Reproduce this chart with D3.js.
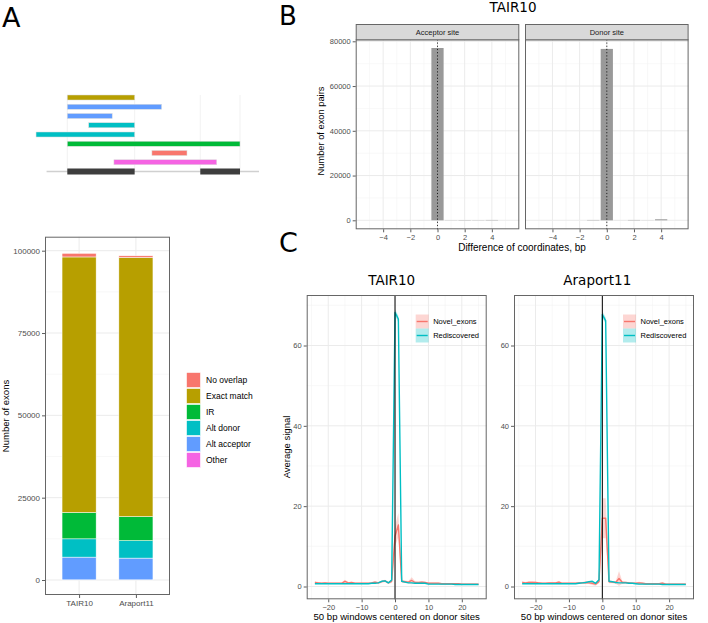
<!DOCTYPE html>
<html><head><meta charset="utf-8">
<script src="https://cdn.jsdelivr.net/npm/d3@7/dist/d3.min.js"></script>
<style>body{margin:0;background:#fff}svg{display:block}</style>
</head><body><svg id="c" width="708" height="623"></svg>
<script>
// ---------------- DATA ----------------
// Panel A: stacked bars
const exonCategories = ["No overlap","Exact match","IR","Alt donor","Alt acceptor","Other"];
const categoryColors = ["#F8766D","#B79F00","#00BA38","#00BFC4","#619CFF","#F564E3"];
const annotations = ["TAIR10","Araport11"];
const tairCounts    = [1100, 77600, 8000, 5550, 6900, 50];
const araportCounts = [500, 78700, 7300, 5300, 6600, 50];
const countTicks = [0,25000,50000,75000,100000];

// Panel A: schematic (gene coordinates, arbitrary units)
const schemaCategory = ["Exact match","Alt acceptor","Alt acceptor","Alt donor","Alt donor","IR","No overlap","Other"];
const schemaStart = [0, 0, 0, 12.4, -18.1, 0, 49, 27];
const schemaEnd   = [39, 54.6, 26, 39, 39, 100, 69.3, 86.5];
const geneExonStart = [0, 77];
const geneExonEnd   = [39, 100];
const geneSpan = [-12, 111];

// Panel B
const bTitle = "TAIR10";
const facets = ["Acceptor site","Donor site"];
const diffBins = [-1, 0, 1, 2, 3, 4];
const acceptorPairs = [30, 77000, 60, 120, 80, 150];
const donorPairs    = [150, 76600, 20, 150, 40, 450];
const diffTicks = [-4,-2,0,2,4];
const pairTicks = [0,20000,40000,60000,80000];

// Panel C
const windowPos = [-24,-23,-22,-21,-20,-19,-18,-17,-16,-15,-14,-13,-12,-11,-10,-9,-8,-7,-6,-5,-4,-3,-2,-1,0,1,2,3,4,5,6,7,8,9,10,11,12,13,14,15,16,17,18,19,20,21,22,23,24,25];
const tairNovel = [1.0,0.9,0.8,0.9,0.8,0.8,0.8,0.8,0.8,1.3, 0.9,1.0,0.8,0.8,0.8,0.8,0.8,0.9,1.1,0.9, 1.2,1.4,0.9,1.3,12.5,15.3,1.3,1.2,1.1,1.5, 1.0,1.0,1.1,1.0,0.8,0.8,0.8,0.8,0.7,0.7, 0.7,0.7,0.7,0.7,0.6,0.6,0.6,0.6,0.6,0.6];
const tairNovelSe = [0.3,0.2,0.2,0.2,0.2,0.2,0.2,0.2,0.2,0.4, 0.2,0.2,0.2,0.2,0.2,0.2,0.2,0.2,0.3,0.2, 0.3,0.3,0.2,0.4,2.5,3.0,0.4,0.3,0.3,0.8, 0.3,0.2,0.3,0.2,0.2,0.2,0.2,0.2,0.2,0.2, 0.2,0.2,0.2,0.2,0.2,0.2,0.2,0.2,0.2,0.2];
const tairRedisc = [0.7,0.7,0.7,0.7,0.7,0.7,0.7,0.7,0.7,0.7, 0.7,0.7,0.7,0.7,0.7,0.7,0.7,0.8,0.8,0.9, 1.3,1.4,0.9,1.6,68.2,66.6,1.3,1.1,0.9,0.9, 0.8,0.8,0.8,0.8,0.6,0.6,0.6,0.6,0.6,0.6, 0.6,0.6,0.5,0.5,0.5,0.5,0.5,0.5,0.5,0.5];
const tairRediscSe = [0.05,0.05,0.05,0.05,0.05,0.05,0.05,0.05,0.05,0.05, 0.05,0.05,0.05,0.05,0.05,0.05,0.05,0.05,0.05,0.05, 0.1,0.1,0.05,0.1,0.8,0.8,0.1,0.05,0.05,0.05, 0.05,0.05,0.05,0.05,0.05,0.05,0.05,0.05,0.05,0.05, 0.05,0.05,0.05,0.05,0.05,0.05,0.05,0.05,0.05,0.05];
const araNovel = [1.0,0.9,1.0,1.0,1.0,0.9,0.8,0.8,0.9,0.9, 0.9,1.1,0.8,0.8,0.8,0.8,0.8,0.9,0.9,1.0, 0.9,0.8,0.6,1.2,17.0,17.0,1.2,1.1,1.0,2.0, 1.0,1.0,0.9,0.8,0.8,0.9,0.8,0.7,0.7,0.7, 0.7,0.7,0.8,0.6,0.6,0.6,0.6,0.6,0.6,0.6];
const araNovelSe = [0.3,0.2,0.3,0.3,0.2,0.2,0.2,0.2,0.2,0.2, 0.2,0.3,0.2,0.2,0.2,0.2,0.2,0.2,0.2,0.3, 0.3,0.4,0.4,0.4,5.0,5.0,0.4,0.3,0.3,1.8, 0.3,0.2,0.2,0.2,0.2,0.3,0.2,0.2,0.2,0.2, 0.2,0.2,0.3,0.2,0.2,0.2,0.2,0.2,0.2,0.2];
const araRedisc = [0.7,0.7,0.7,0.7,0.7,0.7,0.7,0.7,0.7,0.7, 0.7,0.7,0.7,0.7,0.7,0.7,0.7,0.8,0.9,1.0, 1.2,1.3,0.8,1.7,67.7,66.2,1.3,1.2,1.0,0.9, 0.9,0.9,0.8,0.8,0.7,0.6,0.6,0.6,0.6,0.6, 0.6,0.6,0.5,0.5,0.5,0.5,0.5,0.5,0.5,0.5];
const araRediscSe = tairRediscSe;
const cSeries = ["Novel_exons","Rediscovered"];
const cColors = ["#F8766D","#00BFC4"];
const cXTicks = [-20,-10,0,10,20];
const cYTicks = [0,20,40,60];

// ---------------- DRAWING ----------------
const svg = d3.select("#c");
const SANS = "'Liberation Sans', Arial, Helvetica, sans-serif";
const DJ = "'DejaVu Sans', sans-serif";
const MAJ = "#EBEBEB", MIN = "#F4F4F4", BORDER = "#666", TICKC = "#4D4D4D";
svg.append("rect").attr("width",708).attr("height",623).attr("fill","#fff");

function panelBg(x0,x1,y0,y1){
  svg.append("rect").attr("x",x0).attr("y",y0).attr("width",x1-x0).attr("height",y1-y0).attr("fill","#fff");
}
function panelBorder(x0,x1,y0,y1){
  svg.append("rect").attr("x",x0+0.5).attr("y",y0+0.5).attr("width",x1-x0-1).attr("height",y1-y0-1)
    .attr("fill","none").attr("stroke",BORDER).attr("stroke-width",1);
}
function vgrid(xs, y0, y1, col, w){
  svg.append("g").selectAll("line").data(xs).join("line")
    .attr("x1",d=>d).attr("x2",d=>d).attr("y1",y0).attr("y2",y1).attr("stroke",col).attr("stroke-width",w);
}
function hgrid(ys, x0, x1, col, w){
  svg.append("g").selectAll("line").data(ys).join("line")
    .attr("y1",d=>d).attr("y2",d=>d).attr("x1",x0).attr("x2",x1).attr("stroke",col).attr("stroke-width",w);
}
function styleAxis(g, fs){
  g.select(".domain").remove();
  g.selectAll(".tick line").attr("stroke","#333").attr("stroke-width",0.8);
  g.selectAll(".tick text").attr("fill",TICKC).style("font-family",SANS).style("font-size",fs+"px");
}
function text(x,y,t,opt){
  const e = svg.append("text").attr("x",x).attr("y",y).text(t)
    .style("font-family",opt.font||SANS).style("font-size",opt.size+"px")
    .attr("fill",opt.fill||"#000").attr("text-anchor",opt.anchor||"middle");
  if(opt.rot) e.attr("transform",`rotate(-90,${x},${y})`);
  return e;
}

// Panel letters
text(2,27,"A",{font:DJ,size:27,anchor:"start"});
text(279,25,"B",{font:DJ,size:26,anchor:"start"});
text(279,252,"C",{font:DJ,size:27,anchor:"start"});

// ---- Panel A schematic ----
const colorOf = d3.scaleOrdinal().domain(exonCategories).range(categoryColors);
const sx = d3.scaleLinear().domain([0,100]).range([67.3,240]);
const rowY = d3.scaleLinear().domain([0,8]).range([97.5,171.5]);
const boundaries = [geneExonStart[0], geneExonEnd[0], geneExonStart[1], geneExonEnd[1]];
svg.append("g").selectAll("line").data(boundaries).join("line")
  .attr("x1",d=>sx(d)).attr("x2",d=>sx(d)).attr("y1",rowY(0)-2).attr("y2",rowY(8))
  .attr("stroke","#d4d4d4").attr("stroke-width",0.6).attr("stroke-dasharray","1,1");
svg.append("line").attr("x1",sx(geneSpan[0])).attr("x2",sx(geneSpan[1]))
  .attr("y1",rowY(8)).attr("y2",rowY(8)).attr("stroke","#d0d0d0").attr("stroke-width",1.5);
svg.append("g").selectAll("rect").data(geneExonStart).join("rect")
  .attr("x",d=>sx(d)).attr("width",(d,i)=>sx(geneExonEnd[i])-sx(d))
  .attr("y",rowY(8)-3).attr("height",6).attr("fill","#3d3d3d");
svg.append("g").selectAll("rect").data(schemaCategory).join("rect")
  .attr("x",(d,i)=>sx(schemaStart[i])).attr("width",(d,i)=>sx(schemaEnd[i])-sx(schemaStart[i]))
  .attr("y",(d,i)=>rowY(i)-2.5).attr("height",5)
  .attr("fill",d=>colorOf(d)).attr("stroke","#dcdcdc").attr("stroke-width",0.5);

// ---- Panel A stacked bars ----
const A = {x0:45,x1:170,y0:236.7,y1:595};
const aX = d3.scalePoint().domain(annotations).range([A.x0,A.x1]).padding(0.6);
const aY = d3.scaleLinear().domain([0,100000]).range([580,250.7]);
panelBg(A.x0,A.x1,A.y0,A.y1);
hgrid([12500,37500,62500,87500].map(aY),A.x0,A.x1,MIN,0.6);
hgrid(countTicks.map(aY),A.x0,A.x1,MAJ,1);
vgrid(annotations.map(aX),A.y0,A.y1,MAJ,1);
const aRows = annotations.map((a,i)=>{
  const src = i===0?tairCounts:araportCounts; const o={ann:a};
  exonCategories.forEach((c,j)=>o[c]=src[j]); return o;});
const aStack = d3.stack().keys(exonCategories.slice().reverse())(aRows);
const bw = aX.step()*0.6;
svg.append("g").selectAll("g").data(aStack).join("g").attr("fill",d=>colorOf(d.key))
  .selectAll("rect").data(d=>d).join("rect")
  .attr("x",d=>aX(d.data.ann)-bw/2).attr("width",bw)
  .attr("y",d=>aY(d[1])).attr("height",d=>Math.max(0,aY(d[0])-aY(d[1])))
  .attr("stroke","#fff").attr("stroke-width",0.5);
panelBorder(A.x0,A.x1,A.y0,A.y1);
const aYAxis = svg.append("g").attr("transform",`translate(${A.x0},0)`)
  .call(d3.axisLeft(aY).tickValues(countTicks).tickSize(3).tickPadding(2).tickFormat(d3.format("d")));
styleAxis(aYAxis,8);
const aXAxis = svg.append("g").attr("transform",`translate(0,${A.y1})`)
  .call(d3.axisBottom(aX).tickSize(3).tickPadding(2));
styleAxis(aXAxis,8);
text(9,416,"Number of exons",{size:9.5,rot:true});
// legend
const legG = svg.append("g");
exonCategories.forEach((c,i)=>{
  const cy = 380 + i*16;
  legG.append("rect").attr("x",186.5).attr("y",cy-7.5).attr("width",14).attr("height",15)
    .attr("fill",colorOf(c)).attr("stroke","#fff").attr("stroke-width",0.6);
  legG.append("text").attr("x",206).attr("y",cy+3).text(c).style("font-family",SANS)
    .style("font-size","8.5px").attr("fill","#000");
});

// ---- Panel B ----
const B = {y0:39.3,y1:229.3,sy0:24,w:163.6,x0s:[355.7,525]};
const bY = d3.scaleLinear().domain([0,80000]).range([220.3,41.3]);
text(513,12,bTitle,{font:DJ,size:13.5});
facets.forEach((f,fi)=>{
  const x0 = B.x0s[fi], x1 = x0+B.w;
  const bX = d3.scaleLinear().domain([-6.02,6.02]).range([x0,x1]);
  panelBg(x0,x1,B.y0,B.y1);
  vgrid([-5,-3,-1,1,3,5].map(bX),B.y0,B.y1,MIN,0.6);
  hgrid([10000,30000,50000,70000].map(bY),x0,x1,MIN,0.6);
  vgrid(diffTicks.map(bX),B.y0,B.y1,MAJ,1);
  hgrid(pairTicks.map(bY),x0,x1,MAJ,1);
  const vals = fi===0?acceptorPairs:donorPairs;
  svg.append("g").selectAll("rect").data(diffBins).join("rect")
    .attr("x",d=>bX(d-0.45)).attr("width",d=>bX(d+0.45)-bX(d-0.45))
    .attr("y",(d,i)=>bY(vals[i])).attr("height",(d,i)=>bY(0)-bY(vals[i]))
    .attr("fill","#999");
  svg.append("line").attr("x1",bX(0)).attr("x2",bX(0)).attr("y1",B.y0).attr("y2",B.y1)
    .attr("stroke","#000").attr("stroke-width",0.8).attr("stroke-dasharray","1.2,2");
  panelBorder(x0,x1,B.y0,B.y1);
  svg.append("rect").attr("x",x0+0.5).attr("y",B.sy0+0.5).attr("width",B.w-1).attr("height",B.y0-B.sy0)
    .attr("fill","#D9D9D9").attr("stroke",BORDER).attr("stroke-width",1);
  text((x0+x1)/2,34.5,f,{size:7.5,fill:"#1A1A1A"});
  const xa = svg.append("g").attr("transform",`translate(0,${B.y1})`)
    .call(d3.axisBottom(bX).tickValues(diffTicks).tickSize(3).tickPadding(2));
  styleAxis(xa,7.5);
  if(fi===0){
    const ya = svg.append("g").attr("transform",`translate(${x0},0)`)
      .call(d3.axisLeft(bY).tickValues(pairTicks).tickSize(3).tickPadding(2).tickFormat(d3.format("d")));
    styleAxis(ya,7.5);
  }
});
text(522,251,"Difference of coordinates, bp",{size:10});
text(323.5,131,"Number of exon pairs",{size:9.3,rot:true});

// ---- Panel C ----
function drawC(x0,x1,title,titleX,series,ses,yLabel){
  const C = {y0:295,y1:599.3};
  const cX = d3.scaleLinear().domain([-26.45,27.45]).range([x0,x1]);
  const cY = d3.scaleLinear().domain([0,60]).range([586.5,345.5]);
  panelBg(x0,x1,C.y0,C.y1);
  vgrid([-25,-15,-5,5,15,25].map(cX),C.y0,C.y1,MIN,0.6);
  hgrid([10,30,50,70].map(cY),x0,x1,MIN,0.6);
  vgrid(cXTicks.map(cX),C.y0,C.y1,MAJ,1);
  hgrid(cYTicks.map(cY),x0,x1,MAJ,1);
  const area = d3.area().x((d,i)=>cX(windowPos[i])).y0(d=>cY(d[0]-d[1])).y1(d=>cY(d[0]+d[1]));
  const line = d3.line().x((d,i)=>cX(windowPos[i])).y(d=>cY(d));
  series.forEach((s,k)=>{
    svg.append("path").datum(s.map((v,i)=>[v,ses[k][i]])).attr("d",area)
      .attr("fill",cColors[k]).attr("fill-opacity",0.3);
  });
  series.forEach((s,k)=>{
    svg.append("path").datum(s).attr("d",line).attr("fill","none")
      .attr("stroke",cColors[k]).attr("stroke-width",1.4).attr("stroke-linejoin","round");
  });
  svg.append("line").attr("x1",cX(0)).attr("x2",cX(0)).attr("y1",C.y0).attr("y2",C.y1)
    .attr("stroke","#000").attr("stroke-width",1);
  panelBorder(x0,x1,C.y0,C.y1);
  const xa = svg.append("g").attr("transform",`translate(0,${C.y1})`)
    .call(d3.axisBottom(cX).tickValues(cXTicks).tickSize(3).tickPadding(2));
  styleAxis(xa,7.5);
  const ya = svg.append("g").attr("transform",`translate(${x0},0)`)
    .call(d3.axisLeft(cY).tickValues(cYTicks).tickSize(3).tickPadding(2));
  styleAxis(ya,7.5);
  text(titleX,285,title,{font:DJ,size:13.5});
  text((x0+x1)/2,620,"50 bp windows centered on donor sites",{size:9.6});
  if(yLabel) text(x0-17,447,"Average signal",{size:9.5,rot:true});
  // legend
  const lx = x1-71;
  cSeries.forEach((n,k)=>{
    const cy = 321.5 + k*14;
    svg.append("rect").attr("x",lx).attr("y",cy-7).attr("width",13).attr("height",14)
      .attr("fill",cColors[k]).attr("fill-opacity",0.3);
    svg.append("line").attr("x1",lx+1).attr("x2",lx+12).attr("y1",cy).attr("y2",cy)
      .attr("stroke",cColors[k]).attr("stroke-width",1.4);
    svg.append("text").attr("x",lx+17.5).attr("y",cy+2.8).text(n).style("font-family",SANS)
      .style("font-size","7.5px").attr("fill","#000");
  });
}
drawC(306.7,486.7,"TAIR10",391.7,[tairNovel,tairRedisc],[tairNovelSe,tairRediscSe],true);
drawC(514,694,"Araport11",597.3,[araNovel,araRedisc],[araNovelSe,araRediscSe],false);
</script></body></html>
